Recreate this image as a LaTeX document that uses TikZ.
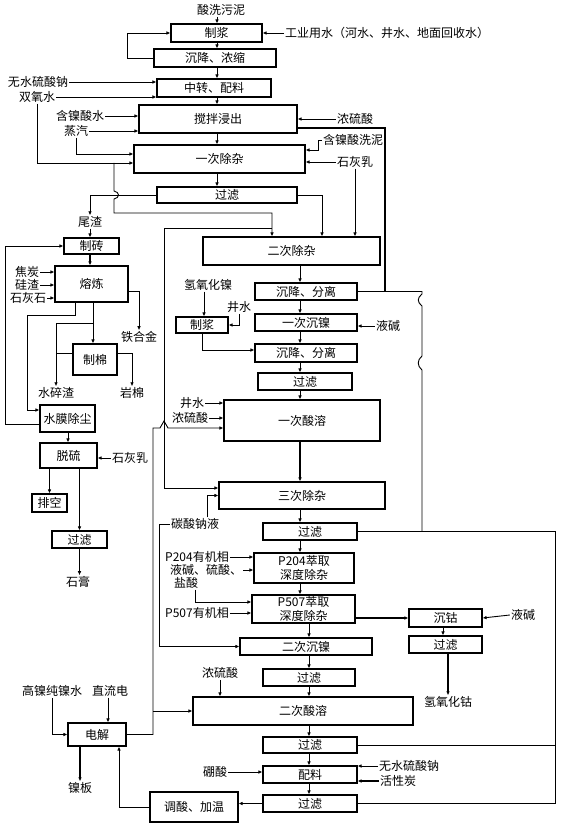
\documentclass[tikz,border=0pt]{standalone}
\usepackage{fontspec}
\setmainfont{Noto Sans CJK SC}
\usetikzlibrary{arrows.meta}
\begin{document}
\begin{tikzpicture}[x=1pt,y=-1pt,
  box/.style={draw, line width=1.2pt, inner sep=0pt, font=\fontsize{12}{13.5}\selectfont, align=center},
  lbl/.style={inner sep=1pt, font=\fontsize{12}{13}\selectfont, align=center},
  arr/.style={line width=0.9pt, -{Latex[length=4pt,width=3.6pt]}},
  ln/.style={line width=0.9pt},
  thick2/.style={line width=2pt}]
\useasboundingbox (0,0) rectangle (560,826);
% column coordinates
\coordinate (c1) at (217,0);
\coordinate (c2) at (300,0);
\coordinate (c3) at (309,0);
\coordinate (v5) at (5,0);
\coordinate (v27) at (27,0);
\coordinate (v68) at (68,0);
\coordinate (v75) at (75,0);
\coordinate (v93) at (93,0);
\coordinate (v108) at (108,0);
\coordinate (v119) at (119,0);
\coordinate (v153) at (153,0);
\coordinate (v164) at (164,0);
\coordinate (v204) at (204,0);
\coordinate (v272) at (272,0);
\coordinate (v322) at (322,0);
\coordinate (v385) at (385,0);
\coordinate (v422) at (422,0);
\coordinate (v443) at (443,0);
\coordinate (v555) at (555,0);
% boxes
\node[box, minimum width=91pt, minimum height=18pt] (zj1) at (216.5,33) {制浆};
\node[box, minimum width=122pt, minimum height=18pt] (cjns) at (215,58) {沉降、浓缩};
\node[box, minimum width=114pt, minimum height=18pt] (zzpl) at (214,88) {中转、配料};
\node[box, minimum width=158pt, minimum height=28pt] (jbjc) at (218,119) {搅拌浸出};
\node[box, minimum width=171pt, minimum height=28pt] (ycz1) at (219.5,159) {一次除杂};
\node[box, minimum width=140pt, minimum height=16pt] (gl1) at (227,195) {过滤};
\node[box, minimum width=55pt, minimum height=16pt] (zz) at (91.5,246) {制砖};
\node[box, minimum width=73pt, minimum height=36pt] (rl) at (91.5,284) {熔炼};
\node[box, minimum width=44pt, minimum height=31pt] (zm) at (95,359.5) {制棉};
\node[box, minimum width=55pt, minimum height=27pt] (smcc) at (67.5,418.5) {水膜除尘};
\node[box, minimum width=57pt, minimum height=25pt] (ls) at (68.5,455.5) {脱硫};
\node[box, minimum width=35pt, minimum height=18pt] (pk) at (49.5,503) {排空};
\node[box, minimum width=55pt, minimum height=17pt] (glL) at (79.5,539.5) {过滤};
\node[box, minimum width=177pt, minimum height=28pt] (ecz) at (291.5,251) {二次除杂};
\node[box, minimum width=102pt, minimum height=17pt] (cjfl1) at (306,291.5) {沉降、分离};
\node[box, minimum width=102pt, minimum height=17pt] (ycnie) at (306,322.5) {一次沉镍};
\node[box, minimum width=102pt, minimum height=18pt] (cjfl2) at (306,353) {沉降、分离};
\node[box, minimum width=94pt, minimum height=17pt] (gl2) at (305,381.5) {过滤};
\node[box, minimum width=52pt, minimum height=16pt] (zj2) at (202,325) {制浆};
\node[box, minimum width=156pt, minimum height=41pt] (ycsr) at (302,420.5) {一次酸溶};
\node[box, minimum width=166pt, minimum height=27pt] (sccz) at (302,495.5) {三次除杂};
\node[box, minimum width=94pt, minimum height=17pt] (gl3) at (310,531.5) {过滤};
\node[box, minimum width=100pt, minimum height=30pt] (p204) at (304,568) {P204萃取\\深度除杂};
\node[box, minimum width=103pt, minimum height=28pt] (p507) at (303.5,609) {P507萃取\\深度除杂};
\node[box, minimum width=73pt, minimum height=18pt] (cg) at (445.5,618) {沉钴};
\node[box, minimum width=73pt, minimum height=17pt] (glco) at (445.5,644.5) {过滤};
\node[box, minimum width=132pt, minimum height=17pt] (ecnie) at (306,646.5) {二次沉镍};
\node[box, minimum width=92pt, minimum height=17pt] (gl4) at (309,677.5) {过滤};
\node[box, minimum width=220pt, minimum height=28pt] (ecsr) at (303,711) {二次酸溶};
\node[box, minimum width=94pt, minimum height=16pt] (gl5) at (310,745) {过滤};
\node[box, minimum width=94pt, minimum height=17pt] (pl2) at (310,774.5) {配料};
\node[box, minimum width=94pt, minimum height=17pt] (gl6) at (310,803.5) {过滤};
\node[box, minimum width=88pt, minimum height=30pt] (tsjw) at (194,807) {调酸、加温};
\node[box, minimum width=58pt, minimum height=23pt] (dj) at (97,734.5) {电解};
% labels
\node[lbl] (sxwn) at (221,10) {酸洗污泥};
\node[lbl, anchor=west] (gyys) at (284,33) {工业用水（河水、井水、地面回收水）};
\node[lbl] (wsn1) at (38,82) {无水硫酸钠};
\node[lbl] (sys) at (37,97) {双氧水};
\node[lbl] (hnss) at (80,116) {含镍酸水};
\node[lbl] (zq) at (76,131) {蒸汽};
\node[lbl] (nls1) at (355,119) {浓硫酸};
\node[lbl, anchor=west] (hnsxn) at (322,140) {含镍酸洗泥};
\node[lbl] (shr1) at (355,162) {石灰乳};
\node[lbl] (wz) at (90,222) {尾渣};
\node[lbl] (jt) at (27,272) {焦炭};
\node[lbl] (gz) at (27,285) {硅渣};
\node[lbl] (shs) at (28,298) {石灰石};
\node[lbl] (thj) at (139,337) {铁合金};
\node[lbl] (ssz) at (56,393) {水碎渣};
\node[lbl] (ym) at (132,393) {岩棉};
\node[lbl] (shr2) at (130,458) {石灰乳};
\node[lbl] (sg) at (78,582) {石膏};
\node[lbl] (qyhn) at (208,285) {氢氧化镍};
\node[lbl] (js1) at (239,307) {井水};
\node[lbl] (yj1) at (388,326) {液碱};
\node[lbl] (js2) at (192,403) {井水};
\node[lbl] (nls2) at (190,418) {浓硫酸};
\node[lbl] (tsnj) at (195,524) {碳酸钠液};
\node[lbl] (p204t) at (197,557) {P204有机相};
\node[lbl] (ylsl) at (206,570) {液碱、硫酸、};
\node[lbl] (ys) at (186,583) {盐酸};
\node[lbl] (p507t) at (197,613) {P507有机相};
\node[lbl] (yj2) at (523,615) {液碱};
\node[lbl] (qyhg) at (448,702) {氢氧化钴};
\node[lbl] (nls3) at (220,673) {浓硫酸};
\node[lbl] (gnc) at (52,691) {高镍纯镍水};
\node[lbl] (zld) at (110,691) {直流电};
\node[lbl] (nb) at (80,788) {镍板};
\node[lbl] (ps) at (215,772) {硼酸};
\node[lbl, anchor=west] (wsn2) at (378,766) {无水硫酸钠};
\node[lbl, anchor=west] (hxt) at (379,781) {活性炭};
% top section connectors
\draw[arr] (sxwn.south -| c1) -- (zj1.north -| c1);
\draw[arr] (gyys.west) -- (zj1.east);
\draw[arr] (zj1.south -| c1) -- (cjns.north -| c1);
\draw[arr] (cjns.west) -- ++(-26,0) |- (zj1.west);
\draw[arr] (cjns.south -| c1) -- (zzpl.north -| c1);
\draw[arr] (wsn1.east) -- (wsn1.east -| zzpl.west);
\draw[arr] (sys.east) -- (sys.east -| zzpl.west);
\draw[arr] (zzpl.south -| c1) -- (jbjc.north -| c1);
\draw[arr] (hnss.east) -- (hnss.east -| jbjc.west);
\draw[arr] (zq.east) -- (zq.east -| jbjc.west);
\draw[arr] (nls1.west) -- (nls1.west -| jbjc.east);
\draw[arr] (jbjc.south -| c1) -- (ycz1.north -| c1);
\draw[arr] (zq.south) |- ([yshift=5pt]ycz1.west);
\draw[arr] (sys.south) |- ([yshift=-4pt]ycz1.west);
\draw[arr] (114,163) -- (114,191) .. controls (120,192) and (120,198) .. (114,199) -- (114,213) -| (ecz.north -| v272);
\draw[arr] (hnsxn.west) -- ++(-4,0) |- ([yshift=9pt]ycz1.east);
\draw[arr] (shr1.west) -- (shr1.west -| ycz1.east);
\draw[arr] (shr1.south) -- (shr1.south |- ecz.north);
\draw[arr] (ycz1.south -| c1) -- (gl1.north -| c1);
\draw[arr] (gl1.west) -| (wz.north);
\draw[arr] (gl1.east) -| (ecz.north -| v322);
\draw[thick2] ([yshift=-9pt]jbjc.east) -| (v385 |- cjfl1.east);
\draw[ln] (cjfl1.east) -- (422,291.5) -- (422,294) .. controls (417,298) and (417,302) .. (422,306) -- (422,356) .. controls (417,360) and (417,366) .. (422,370) -- (gl3.east -| v422);
\draw[ln] (gl3.east) -| (v555 |- gl6.east) -- (gl6.east);
\draw[ln] (gl5.east) -- (gl5.east -| v555);
% left section
\draw[arr] (wz.south) -- (wz.south |- zz.north);
\draw[arr, thick2] (zz.south -| wz.south) -- (rl.north -| wz.south);
\draw[arr] ([yshift=-5.5pt]smcc.west) -| (v5 |- zz.west) -- (zz.west);
\draw[arr] (jt.east) -- (jt.east -| rl.west);
\draw[arr] (gz.east) -- (gz.east -| rl.west);
\draw[arr] (shs.east) -- (shs.east -| rl.west);
\draw[arr] ([yshift=-7pt]rl.east) -| (thj.north);
\draw[arr] (rl.south -| v75) -- (75,315) -- (27,315) |- ([yshift=8.5pt]smcc.west);
\draw[arr] (rl.south -| v93) -- (zm.north -| v93);
\draw[arr] (93,323) -| (ssz.north);
\draw[ln] ([yshift=6.5pt]zm.west) -- ([yshift=6.5pt]zm.west -| ssz.north);
\draw[arr] ([yshift=6.5pt]zm.east) -| (ym.north);
\draw[arr] (smcc.south -| v68) -- (ls.north -| v68);
\draw[arr] (shr2.west) -- (shr2.west -| ls.east);
\draw[arr] (ls.south -| pk.north) -- (pk.north);
\draw[arr] (ls.south -| glL.north) -- (glL.north);
\draw[arr] (glL.south) -- (glL.south |- sg.north);
% right column
\draw[arr] (ecz.south -| c2) -- (cjfl1.north -| c2);
\draw[arr] (cjfl1.south -| c2) -- (ycnie.north -| c2);
\draw[arr] (ycnie.south -| c2) -- (cjfl2.north -| c2);
\draw[arr] (cjfl2.south -| c2) -- (gl2.north -| c2);
\draw[arr] (gl2.south -| c2) -- (ycsr.north -| c2);
\draw[arr] (qyhn.south -| v204) -- (zj2.north -| v204);
\draw[arr] (js1.south) |- (zj2.east);
\draw[arr] (zj2.south) |- ([yshift=3pt]cjfl2.west);
\draw[arr] (yj1.west) -- (yj1.west -| ycnie.east);
\draw[arr] (js2.east) -- (js2.east -| ycsr.west);
\draw[arr] (nls2.east) -- (nls2.east -| ycsr.west);
\draw[arr, thick2] (ycsr.south -| c2) -- (sccz.north -| c2);
\draw[arr] (dj.east) -- (153,734.5) -- (153,428) -- (160,428) -- (164,421) -- (168,428) -- ([yshift=-7.5pt]ycsr.west);
\draw[arr] (153,711) -- (ecsr.west);
\draw[arr] (272,228) -- (164,228) |- ([yshift=7.5pt]sccz.west);
\draw[arr] ([xshift=12pt]tsnj.north) |- (sccz.west);
\draw[arr] (tsnj.west) -- ++(-10,0) |- (ecnie.west);
\draw[arr] (sccz.south -| c2) -- (gl3.north -| c2);
\draw[arr] (gl3.south -| c2) -- (p204.north -| c2);
\draw[arr] (p204.south -| c2) -- (p507.north -| c2);
\draw[arr] (p204t.east) -- (p204t.east -| p204.west);
\draw[arr] (ylsl.east) -- (ylsl.east -| p204.west);
\draw[arr] ([xshift=9pt]ys.south) |- ([yshift=7pt]p507.west);
\draw[arr] (p507t.east) -- (p507t.east -| p507.west);
\draw[arr, thick2] (cg.west -| p507.east) -- (cg.west);
\draw[arr] (yj2.west) -- (cg.east);
\draw[arr] (cg.south -| v443) -- (glco.north -| v443);
\draw[arr, thick2] (glco.south -| qyhg.north) -- (qyhg.north);
\draw[arr] (p507.south -| c3) -- (ecnie.north -| c3);
\draw[arr] (ecnie.south -| c3) -- (gl4.north -| c3);
\draw[arr] (nls3.south) -- (nls3.south |- ecsr.north);
\draw[arr] (gl4.south -| c3) -- (ecsr.north -| c3);
\draw[arr] (ecsr.south -| c3) -- (gl5.north -| c3);
\draw[arr] (gl5.south -| c3) -- (pl2.north -| c3);
\draw[arr] (pl2.south -| c3) -- (gl6.north -| c3);
\draw[arr] (ps.east) -- (ps.east -| pl2.west);
\draw[arr] (wsn2.west) -- (wsn2.west -| pl2.east);
\draw[arr, thick2] (hxt.west) -- (hxt.west -| pl2.east);
\draw[arr] (gl6.west) -- (gl6.west -| tsjw.east);
\draw[arr] (tsjw.west) -| (dj.south -| v119);
\draw[arr] (gnc.south) |- (dj.west);
\draw[arr] (zld.south -| v108) -- (dj.north -| v108);
\draw[arr, thick2] (dj.south -| nb.north) -- (nb.north);
\end{tikzpicture}
\end{document}
